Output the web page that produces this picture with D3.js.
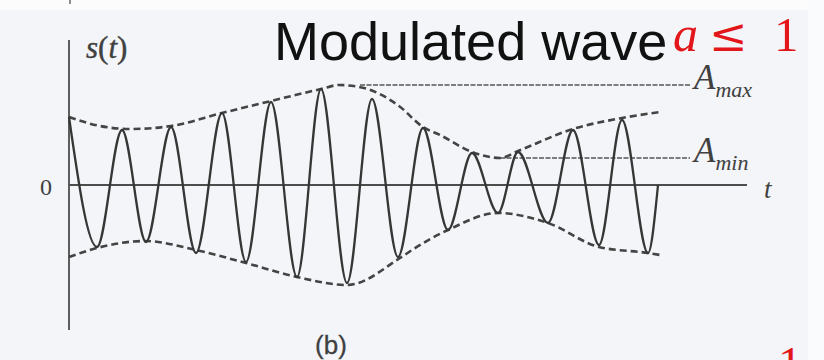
<!DOCTYPE html>
<html>
<head>
<meta charset="utf-8">
<script src="https://cdn.jsdelivr.net/npm/d3@7/dist/d3.min.js"></script>
<style>
  html, body { margin: 0; padding: 0; background: #f3f5f8; }
  svg { display: block; }
</style>
</head>
<body>
<svg id="chart" width="824" height="360"></svg>
<script>
// Carrier extrema of the AM wave s(t): time (carrier periods) and amplitude
const carrierT = [0, 0.56, 1.06, 1.54, 2.04, 2.54, 3.06, 3.54, 4.04, 4.56, 5.04, 5.56,
                  6.06, 6.58, 7.08, 7.58, 8.06, 8.58, 8.98, 9.58, 10.08, 10.60, 11.06, 11.58, 11.78];
const carrierS = [0.68, -0.62, 0.55, -0.57, 0.58, -0.68, 0.72, -0.77, 0.83, -0.92, 0.96, -0.98,
                  0.86, -0.72, 0.57, -0.45, 0.32, -0.28, 0.33, -0.38, 0.55, -0.60, 0.65, -0.68, 0.0];

// Upper envelope (dashed)
const upperEnvT = [0, 0.62, 1.22, 2.04, 3.06, 4.04, 5.04, 5.40, 5.90, 6.60, 7.08, 7.42, 8.06, 8.62, 8.98, 10.08, 11.06, 11.82];
const upperEnvS = [0.68, 0.59, 0.56, 0.59, 0.72, 0.84, 0.96, 1.00, 0.97, 0.79, 0.58, 0.50, 0.33, 0.27, 0.34, 0.56, 0.67, 0.73];

// Lower envelope (dashed)
const lowerEnvT = [0, 0.56, 1.52, 2.54, 3.54, 4.56, 5.56, 6.62, 6.86, 7.58, 8.58, 9.58, 10.60, 11.58, 11.82];
const lowerEnvS = [-0.72, -0.63, -0.56, -0.65, -0.78, -0.92, -1.00, -0.73, -0.65, -0.45, -0.28, -0.38, -0.62, -0.68, -0.70];

// Reference levels A_max and A_min
const levelNames = ["max", "min"];
const levelS = [1.00, 0.27];
const levelStartT = [5.82, 8.62];
const levelEndT = 12.42;

// Axis extents
const tDomain = [0, 13.6];
const sDomain = [-1.45, 1.45];

const svg = d3.select("#chart");

// backdrop: thin white strip along the top and right edge
svg.append("rect").attr("x", 0).attr("y", 0).attr("width", 824).attr("height", 10).attr("fill", "#fcfcfd");
svg.append("rect").attr("x", 808).attr("y", 0).attr("width", 16).attr("height", 360).attr("fill", "#fafbfc");
svg.append("line").attr("x1", 70).attr("x2", 70).attr("y1", 0).attr("y2", 4)
  .attr("stroke", "#666").attr("stroke-width", 1.5);

const x = d3.scaleLinear().domain(tDomain).range([69, 749]);
const y = d3.scaleLinear().domain(sDomain).range([330, 40]);

const ink = "#363636";

const g = svg.append("g");

// axes
g.append("line")
  .attr("x1", x(0)).attr("x2", x(0))
  .attr("y1", y(sDomain[0])).attr("y2", y(sDomain[1]))
  .attr("stroke", "#4d4d4d").attr("stroke-width", 1.8);
g.append("line")
  .attr("x1", x(0)).attr("x2", x(13.56))
  .attr("y1", y(0)).attr("y2", y(0))
  .attr("stroke", "#4d4d4d").attr("stroke-width", 1.8);

// A_max / A_min reference lines
levelS.forEach((s, i) => {
  g.append("line")
    .attr("x1", x(levelStartT[i])).attr("x2", x(levelEndT))
    .attr("y1", y(s)).attr("y2", y(s))
    .attr("stroke", "#555").attr("stroke-width", 1.5)
    .attr("stroke-dasharray", "5,1.5");
});

const line = d3.line()
  .x(d => x(d[0]))
  .y(d => y(d[1]))
  .curve(d3.curveMonotoneX);

// envelopes
[[upperEnvT, upperEnvS], [lowerEnvT, lowerEnvS]].forEach(([ts, ss]) => {
  g.append("path")
    .datum(ts.map((t, i) => [t, ss[i]]))
    .attr("d", line)
    .attr("fill", "none")
    .attr("stroke", "#444")
    .attr("stroke-width", 2.6)
    .attr("stroke-dasharray", "7,4");
});

// modulated carrier
g.append("path")
  .datum(carrierT.map((t, i) => [t, carrierS[i]]))
  .attr("d", line)
  .attr("fill", "none")
  .attr("stroke", ink)
  .attr("stroke-width", 2.3)
  .attr("stroke-linejoin", "round");

// axis labels
const serif = "'Liberation Serif', 'Times New Roman', serif";
const labelInk = "#404040";

const sLab = svg.append("text").attr("x", 86).attr("y", 58)
  .attr("font-family", serif).attr("font-size", 31).attr("fill", labelInk)
  .attr("stroke", labelInk).attr("stroke-width", 0.4);
sLab.append("tspan").attr("font-style", "italic").text("s");
sLab.append("tspan").text("(");
sLab.append("tspan").attr("font-style", "italic").text("t");
sLab.append("tspan").text(")");

svg.append("text").attr("x", 40).attr("y", 195)
  .attr("font-family", serif).attr("font-size", 24).attr("fill", labelInk).text("0");

svg.append("text").attr("x", 764).attr("y", 198)
  .attr("font-family", serif).attr("font-style", "italic").attr("font-size", 27).attr("fill", labelInk).text("t");

levelNames.forEach((name, i) => {
  const tx = svg.append("text").attr("x", x(levelEndT) + 4).attr("y", y(levelS[i]) + 4)
    .attr("font-family", serif).attr("font-style", "italic").attr("fill", labelInk);
  tx.append("tspan").attr("font-size", 35).text("A");
  tx.append("tspan").attr("font-size", 22).attr("dy", 8).text(name);
});

svg.append("text").attr("x", 331).attr("y", 354).attr("text-anchor", "middle")
  .attr("font-family", "'Liberation Sans', Arial, sans-serif").attr("font-size", 26)
  .attr("fill", labelInk).attr("stroke", labelInk).attr("stroke-width", 0.3).text("(b)");

// title
svg.append("text").attr("x", 274).attr("y", 60)
  .attr("font-family", "'Liberation Sans', Arial, sans-serif").attr("font-size", 54)
  .attr("fill", "#111").text("Modulated wave");

// modulation index condition, in red
const red = "#e3171b";
svg.append("text").attr("x", 673).attr("y", 51)
  .attr("font-family", serif).attr("font-style", "italic").attr("font-size", 50)
  .attr("fill", red).text("a");
svg.append("text").attr("x", 709).attr("y", 51)
  .attr("font-family", "'DejaVu Serif', serif").attr("font-size", 46)
  .attr("fill", red).text("≤");
svg.append("text").attr("x", 774).attr("y", 51)
  .attr("font-family", serif).attr("font-size", 49)
  .attr("fill", red).text("1");

// edge of the following heading
svg.append("text").attr("x", 778).attr("y", 380)
  .attr("font-family", serif).attr("font-size", 48).attr("fill", red).text("1");
</script>
</body>
</html>
